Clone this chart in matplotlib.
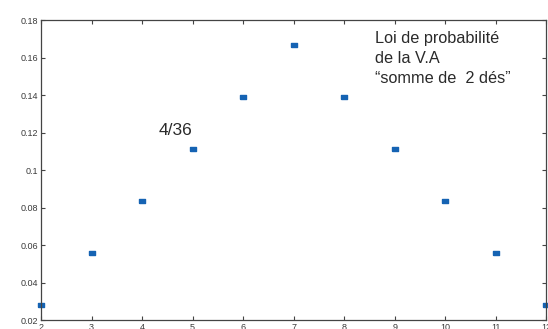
import matplotlib
matplotlib.use('Agg')
import matplotlib.pyplot as plt

plt.rcParams['font.family'] = ['Liberation Sans', 'DejaVu Sans']

# somme de 2 des et probabilites
sommes = [2, 3, 4, 5, 6, 7, 8, 9, 10, 11, 12]
probas = [0.0278, 0.0556, 0.0833, 0.1111, 0.1389, 0.1667,
          0.1389, 0.1111, 0.0833, 0.0556, 0.0278]
xticks = [2, 3, 4, 5, 6, 7, 8, 9, 10, 11, 12]
yticks = [0.02, 0.04, 0.06, 0.08, 0.1, 0.12, 0.14, 0.16, 0.18]
ylabels = ['0.02', '0.04', '0.06', '0.08', '0.1', '0.12', '0.14', '0.16', '0.18']

bleu = '#1563b3'
gris = '#444444'

fig = plt.figure(figsize=(5.48, 3.29), dpi=100)
ax = fig.add_axes([0.0748, 0.027, 0.922, 0.912])

rect = [(-1.4, -0.9), (1.4, -0.9), (1.4, 0.9), (-1.4, 0.9), (-1.4, -0.9)]
ax.plot(sommes, probas, linestyle='none', marker=rect, markersize=5,
        color=bleu, clip_on=False)

ax.set_xlim(2, 12)
ax.set_ylim(0.02, 0.18)
ax.set_xticks(xticks)
ax.set_yticks(yticks)
ax.set_yticklabels(ylabels)
ax.tick_params(direction='in', top=True, right=True, length=3, width=0.8,
               colors=gris, labelsize=6.5, pad=2, labelcolor='#3a3a3a')
for s in ax.spines.values():
    s.set_color(gris)
    s.set_linewidth(0.9)

fig.text(375 / 548, 1 - 31 / 329,
         'Loi de probabilité\nde la V.A\n\u201csomme de  2 dés\u201d',
         fontsize=11.7, color='#2a2a2a', va='top', linespacing=1.4)
ax.text(4.32, 0.1187, '4/36', fontsize=12.5, color='#2a2a2a',
        va='baseline')

fig.savefig('out.png', dpi=100)
